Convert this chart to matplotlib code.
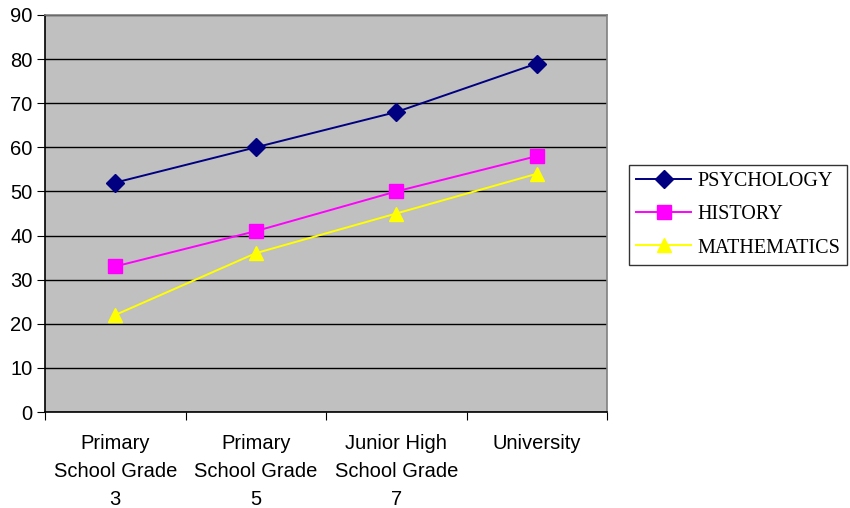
import matplotlib
matplotlib.use("Agg")
import matplotlib.pyplot as plt
import numpy as np

categories = ["Primary\nSchool Grade\n3", "Primary\nSchool Grade\n5", "Junior High\nSchool Grade\n7", "University"]
psychology = [52, 60, 68, 79]
history = [33, 41, 50, 58]
mathematics = [22, 36, 45, 54]
yticks = [0, 10, 20, 30, 40, 50, 60, 70, 80, 90]

fig = plt.figure(figsize=(8.5, 5.08), dpi=100)
ax = fig.add_axes([45/850, 1-412/508, (607-45)/850, (412-15)/508])
ax.set_facecolor("#C0C0C0")
x = np.arange(len(categories))

ax.plot(x, psychology, color="#000080", marker="D", markersize=9, lw=1.4, label="PSYCHOLOGY", zorder=3)
ax.plot(x, history, color="#FF00FF", marker="s", markersize=10.5, lw=1.4, label="HISTORY", zorder=3)
ax.plot(x, mathematics, color="#FFFF00", marker="^", markersize=10.5, lw=1.4, label="MATHEMATICS", zorder=3)

ax.set_xlim(-0.5, len(categories) - 0.5)
ax.set_ylim(0, 90)
ax.set_yticks(yticks)
ax.set_yticklabels([str(v) for v in yticks], fontsize=14.5, family="Liberation Sans")
ax.yaxis.grid(True, color="black", lw=1)
ax.set_axisbelow(True)

ax.set_xticks(np.arange(-0.5, len(categories)), minor=False)
ax.set_xticklabels([])
ax.set_xticks(x, minor=True)
ax.set_xticklabels(categories, minor=True, fontsize=14.5, family="Liberation Sans", linespacing=1.6)
ax.tick_params(axis="x", which="minor", length=0, pad=16)
ax.tick_params(axis="x", which="major", length=6, direction="out", color="black")
ax.tick_params(axis="y", length=6, direction="out", color="black", pad=3)

ax.spines["left"].set_color("black")
ax.spines["bottom"].set_color("black")
ax.spines["top"].set_color("#808080")
ax.spines["right"].set_color("#808080")
for s in ax.spines.values():
    s.set_linewidth(1.2)

leg = fig.legend(loc="upper left", bbox_to_anchor=(629/850, 1-165/508),
                 prop={"family": "Liberation Serif", "size": 14.5},
                 frameon=True, fancybox=False, edgecolor="black",
                 handlelength=2.75, handletextpad=0.3, borderpad=0.35, labelspacing=0.7,
                 borderaxespad=0)
leg.get_frame().set_linewidth(1.0)

fig.savefig("out.png", dpi=100)
